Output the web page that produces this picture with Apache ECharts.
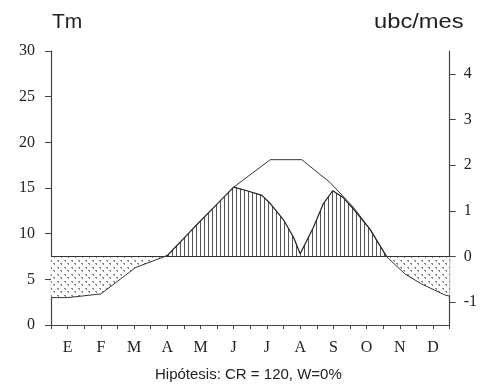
<!DOCTYPE html>
<html>
<head>
<meta charset="utf-8">
<script src="https://cdn.jsdelivr.net/npm/echarts@6/dist/echarts.min.js"></script>
<style>
html,body{margin:0;padding:0;background:#fff;}
#c{width:480px;height:385px;}
</style>
</head>
<body>
<div id="c"></div>
<script>
// ---- data (x in months: 0 = start of January, 12 = end of December) ----
const months = ['E','F','M','A','M','J','J','A','S','O','N','D'];
const leftTicks = [0,5,10,15,20,25,30];
const rightTicks = [-1,0,1,2,3,4];
const threshold = 7.5; // Tm level that equals 0 ubc/mes

// mean temperature curve
const tempLine = [[0,3.0],[0.5,3.0],[1.5,3.4],[2.55,6.3],[3.5,7.6],[4.5,11.4],[5.5,15.1],[6.6,18.1],[7.55,18.1],[8.4,15.6],[9.1,12.9],[9.6,10.5],[10.1,7.5],[10.65,5.6],[11.15,4.5],[11.85,3.3],[12,3.15]];
// effective (hatched) curve above the threshold
const hatchTop = [[3.43,7.5],[3.5,7.6],[4.5,11.4],[5.5,15.1],[5.9,14.7],[6.35,14.2],[6.6,13.3],[7.0,11.5],[7.3,9.6],[7.5,7.8],[7.9,10.7],[8.2,13.3],[8.48,14.7],[8.78,14.0],[9.08,12.8],[9.6,10.5],[10.1,7.5]];
// deficit (stippled) parts below the threshold
const deficitLeft = [[0,3.0],[0.5,3.0],[1.5,3.4],[2.55,6.3],[3.43,7.5]];
const deficitRight = [[10.1,7.5],[10.65,5.6],[11.15,4.5],[11.85,3.3],[12,3.15]];

// ---- patterns ----
function hatchPattern(){
  const c=document.createElement('canvas'); c.width=4; c.height=10;
  const g=c.getContext('2d'); g.fillStyle='#fff'; g.fillRect(0,0,4,10);
  g.fillStyle='#555'; g.fillRect(0,0,1,10);
  return c;
}
function dotPattern(){
  const c=document.createElement('canvas'); c.width=7; c.height=7;
  const g=c.getContext('2d'); g.fillStyle='#fff'; g.fillRect(0,0,7,7);
  g.fillStyle='#888';
  g.fillRect(1,1,2,1); g.fillRect(2,2,1,1);
  g.fillRect(4,4,2,1); g.fillRect(5,5,1,1);
  return c;
}
const hatch={image:hatchPattern(),repeat:'repeat'};
const dots={image:dotPattern(),repeat:'repeat'};

const serif='"Liberation Serif", "DejaVu Serif", serif';
const sans='"Liberation Sans", Arial, sans-serif';
const axisCol='#444';

const chart=echarts.init(document.getElementById('c'),null,{renderer:'canvas'});
chart.setOption({
  animation:false,
  backgroundColor:'#fff',
  grid:{left:51,right:25,top:51,bottom:60,containLabel:false},
  xAxis:{
    type:'value',min:0,max:12,interval:0.5,
    axisLine:{lineStyle:{color:axisCol,width:1.2}},
    axisTick:{show:true,length:4,lineStyle:{color:axisCol}},
    splitLine:{show:false},
    axisLabel:{
      margin:15,color:'#222',fontFamily:serif,fontSize:16,
      showMinLabel:true,showMaxLabel:true,
      formatter:function(v){const i=Math.floor(v);return (Math.abs(v-i-0.5)<1e-6&&i<12)?months[i]:'';}
    }
  },
  yAxis:[{
    type:'value',min:0,max:30,interval:5,position:'left',
    axisLine:{show:true,lineStyle:{color:axisCol,width:1.2}},
    axisTick:{show:true,length:6,lineStyle:{color:axisCol}},
    splitLine:{show:false},
    axisLabel:{margin:16,color:'#222',fontFamily:serif,fontSize:16,
      formatter:function(v){return leftTicks.indexOf(v)>=0?String(v):'';}}
  },{
    type:'value',min:-1.5,max:4.5,position:'right',
    axisLine:{show:true,lineStyle:{color:axisCol,width:1.2}},
    axisTick:{show:true,length:6,lineStyle:{color:axisCol},customValues:rightTicks},
    splitLine:{show:false},
    axisLabel:{margin:14,color:'#222',fontFamily:serif,fontSize:16,customValues:rightTicks}
  }],
  series:[
    {type:'line',data:deficitLeft,symbol:'none',z:1,
     lineStyle:{width:0},areaStyle:{color:dots,opacity:1,origin:threshold}},
    {type:'line',data:deficitRight,symbol:'none',z:1,
     lineStyle:{width:0},areaStyle:{color:dots,opacity:1,origin:threshold}},
    {type:'line',data:hatchTop,symbol:'none',z:2,
     lineStyle:{width:1.2,color:'#222'},areaStyle:{color:hatch,opacity:1,origin:threshold}},
    {type:'line',data:tempLine,symbol:'none',z:3,
     lineStyle:{width:1,color:'#333'},
     markLine:{silent:true,symbol:'none',label:{show:false},
       lineStyle:{type:'solid',color:'#333',width:1},data:[{yAxis:threshold}]}}
  ],
  graphic:[
    {type:'text',left:52,top:12,style:{text:'Tm',fontFamily:sans,fontSize:21,fill:'#222'}},
    {type:'text',x:374,y:12,scaleX:1.13,style:{text:'ubc/mes',fontFamily:sans,fontSize:21,fill:'#222'}},
    {type:'text',left:155,top:367,style:{text:'Hipótesis: CR = 120, W=0%',fontFamily:sans,fontSize:15,fill:'#222'}}
  ]
});
</script>
</body>
</html>
